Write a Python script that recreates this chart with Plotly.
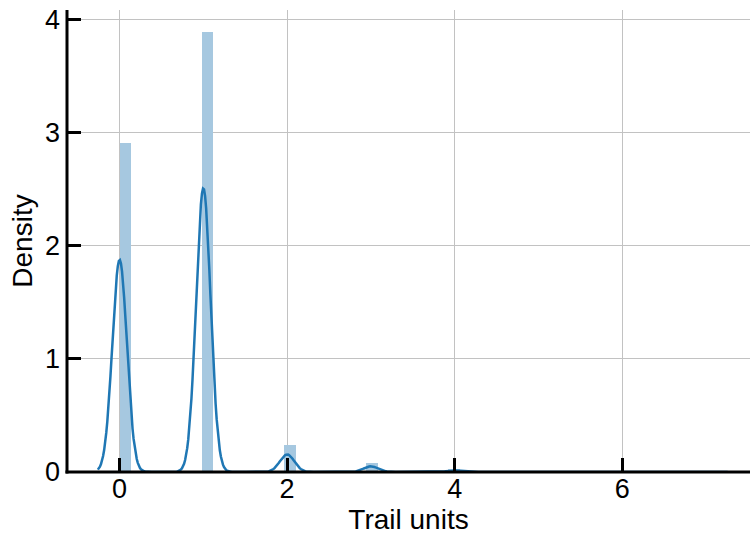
import numpy as np
import plotly.graph_objects as go

# Share of trails by number of trail units
trail_units = [0, 1, 2, 3, 4, 5, 6, 7]
trail_share = [0.406, 0.543, 0.0336, 0.0108, 0.0032, 0.0010, 0.0003, 0.0002]

# Histogram settings and kernel bandwidth for the density curve
n_bins = 50
kde_bandwidth = 0.0866

x_ticks = [0, 2, 4, 6]
y_ticks = [0, 1, 2, 3, 4]

units = np.array(trail_units, dtype=float)
share = np.array(trail_share, dtype=float)

# Normalised histogram over the data range
hist_density, edges = np.histogram(units, bins=n_bins, range=(units.min(), units.max()),
                                   weights=share, density=True)
centers = (edges[:-1] + edges[1:]) / 2
bin_width = edges[1] - edges[0]
keep = hist_density > 0

# Gaussian kernel density estimate, cut 3 bandwidths beyond the data range
grid = np.linspace(units.min() - 3 * kde_bandwidth, units.max() + 3 * kde_bandwidth, 600)
weights = share / share.sum()
kde = np.zeros_like(grid)
for u, w in zip(units, weights):
    kde += w * np.exp(-0.5 * ((grid - u) / kde_bandwidth) ** 2)
kde /= kde_bandwidth * np.sqrt(2 * np.pi)

fig = go.Figure()
fig.add_trace(go.Bar(
    x=centers[keep], y=hist_density[keep], width=bin_width,
    marker=dict(color="#a6c8e0", line=dict(width=0)),
    showlegend=False, hoverinfo="skip",
))
fig.add_trace(go.Scatter(
    x=grid, y=kde, mode="lines",
    line=dict(color="#1f77b4", width=2.5),
    showlegend=False, hoverinfo="skip",
))

W, H = 750, 538
M_L, M_R, M_T, M_B = 67, 0, 10, 66
plot_w = W - M_L - M_R
plot_h = H - M_T - M_B

font_family = "Liberation Sans, Arial, sans-serif"
axis_common = dict(
    showline=False,
    ticks="inside", ticklen=14, tickwidth=3, tickcolor="black",
    showgrid=True, gridcolor="#c2c2c2", gridwidth=1.3,
    zeroline=False,
    tickfont=dict(family=font_family, size=27, color="black"),
)

# Left and bottom spines, centred on the plot edges and drawn over the marks
spine = dict(type="line", xref="paper", yref="paper", layer="above",
             line=dict(color="black", width=3))
shapes = [
    dict(spine, x0=-1.5 / plot_w, x1=1, y0=0, y1=0),
    dict(spine, x0=0, x1=0, y0=-1.5 / plot_h, y1=1),
]

fig.update_layout(
    width=W, height=H,
    margin=dict(l=M_L, r=M_R, t=M_T, b=M_B),
    paper_bgcolor="white", plot_bgcolor="white",
    bargap=0,
    shapes=shapes,
    xaxis=dict(
        range=[-0.628, 7.526], tickvals=x_ticks, ticktext=[str(v) for v in x_ticks],
        ticklabelstandoff=-2,
        title=dict(text="Trail units", font=dict(family=font_family, size=28, color="black"),
                   standoff=4),
        **axis_common,
    ),
    yaxis=dict(
        range=[0, 4.08], tickvals=y_ticks, ticktext=[str(v) for v in y_ticks],
        ticklabelstandoff=6,
        title=dict(text="Density", font=dict(family=font_family, size=28, color="black"),
                   standoff=4),
        **axis_common,
    ),
)

fig.write_html("out.html")
